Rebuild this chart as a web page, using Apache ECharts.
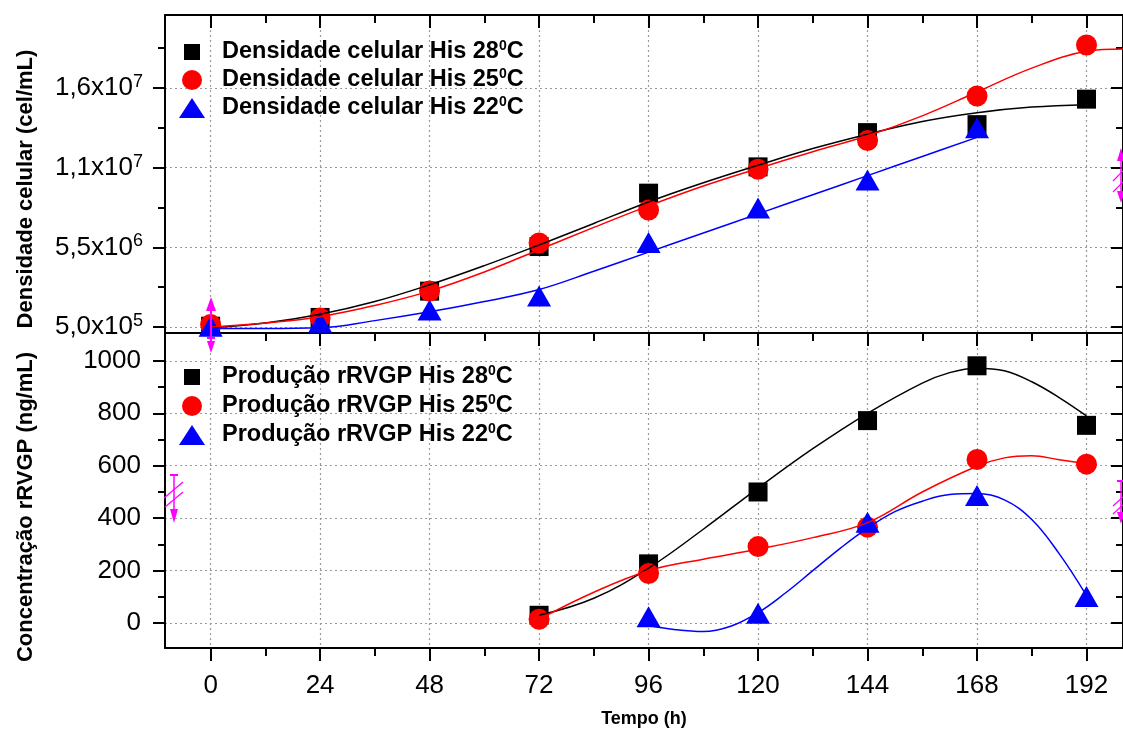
<!DOCTYPE html>
<html><head><meta charset="utf-8">
<script src="https://cdn.jsdelivr.net/npm/echarts@6/dist/echarts.min.js"></script>
<style>html,body{margin:0;padding:0;background:#fff}#c{width:1123px;height:729px}</style>
</head><body><div id="c"></div>
<script>
// ---------- data ----------
const times = [0, 24, 48, 72, 96, 120, 144, 168, 192];
const dens28 = [5.5e5, 1.1e6, 2.75e6, 5.55e6, 8.9e6, 10.55e6, 12.7e6, 13.2e6, 14.8e6];
const dens25 = [6.5e5, 1.06e6, 2.76e6, 5.77e6, 7.84e6, 10.4e6, 12.2e6, 15.0e6, 18.2e6];
const dens22 = [5.5e5, 8.0e5, 1.57e6, 2.45e6, 5.8e6, 7.97e6, 9.73e6, 13.0e6, null];

const fitTopX = [0, 12, 24, 36, 48, 60, 72, 84, 96, 108, 120, 132, 144, 156, 168, 180, 192];
const fitTop28 = [4.5e5, 7.5e5, 1.3e6, 2.1e6, 3.15e6, 4.35e6, 5.65e6, 7.0e6, 8.35e6, 9.55e6, 10.65e6, 11.7e6, 12.6e6, 13.4e6, 13.95e6, 14.3e6, 14.45e6];
const fitTop25X = [0, 12, 24, 36, 48, 60, 72, 84, 96, 108, 120, 132, 144, 156, 168, 180, 192, 200];
const fitTop25 = [5e5, 7.5e5, 1.15e6, 1.85e6, 2.75e6, 3.95e6, 5.35e6, 6.75e6, 8.1e6, 9.35e6, 10.45e6, 11.5e6, 12.5e6, 13.75e6, 15.25e6, 16.75e6, 17.8e6, 17.95e6];
const fitTop22X = [0, 12, 24, 36, 48, 60, 72, 84, 96, 108, 120, 132, 144, 156, 168];
const fitTop22 = [4e5, 4e5, 4.5e5, 9e5, 1.45e6, 2.1e6, 2.85e6, 4.0e6, 5.2e6, 6.4e6, 7.6e6, 8.8e6, 10.0e6, 11.2e6, 12.4e6];

const prodTimes = [72, 96, 120, 144, 168, 192];
const prod28 = [30, 226, 500, 772, 981, 754];
const prod25 = [15, 189, 292, 366, 624, 606];
const prod22 = [null, 24, 38, 385, 487, 102];

const fitBot28X = [72, 84, 96, 108, 120, 132, 144, 156, 162, 168, 174, 180, 186, 192];
const fitBot28 = [30, 95, 210, 358, 515, 665, 800, 915, 955, 972, 962, 920, 860, 790];
const fitBot25X = [72, 84, 96, 108, 120, 132, 144, 156, 168, 174, 180, 186, 192];
const fitBot25 = [15, 118, 200, 244, 282, 326, 383, 500, 598, 630, 638, 623, 608];
const fitBot22X = [96, 102, 108, 114, 120, 126, 132, 138, 144, 150, 156, 162, 168, 174, 180, 186, 192];
const fitBot22 = [-9, -25, -32, -12, 40, 115, 200, 285, 362, 425, 465, 490, 494, 470, 395, 265, 105];

const topNames = ['Densidade celular His 28ºC', 'Densidade celular His 25ºC', 'Densidade celular His 22ºC'];
const botNames = ['Produção rRVGP His 28ºC', 'Produção rRVGP His 25ºC', 'Produção rRVGP His 22ºC'];

// ---------- axes / tick labels ----------
const X_MIN = -10, X_MAX = 200;
const xMajorTicks = [0, 24, 48, 72, 96, 120, 144, 168, 192];
const xMinorTicks = [12, 36, 60, 84, 108, 132, 156, 180];
const topYMin = 123400, topYMax = 20081500;
const topYMajor = [5e5, 5.5e6, 1.05e7, 1.55e7];
const topYMinor = [3e6, 8e6, 1.3e7, 1.8e7];
const topYMantissa = ['5,0', '5,5', '1,1', '1,6'];
const topYExponent = ['5', '6', '7', '7'];
const botYMin = -94.7, botYMax = 1106;
const botYMajor = [0, 200, 400, 600, 800, 1000];
const botYMinor = [100, 300, 500, 700, 900];

const FONT = '"Liberation Sans", Arial, sans-serif';
const colors = ['#000000', '#ff0000', '#0000ff'];
const symbols = ['rect', 'circle', 'triangle'];
const symSizes = [[19, 19], 21, [24, 21]];
const legendIcons = [
  'path://M0,0M26,20M5,2h16v16h-16z',
  'path://M0,0M26,20M13,0A10,10,0,1,1,13,20A10,10,0,1,1,13,0z',
  'path://M0,0M26,20M13,0L26,20L0,20z'
];

const xAxes = [], yAxes = [];
function tickAxis(kind, grid, pos, min, max, ticks, len, inside, label, split, line) {
  const o = {
    type: 'value', gridIndex: grid, position: pos, min: min, max: max,
    axisLine: {show: line, onZero: false, lineStyle: {color: '#000', width: 2}},
    axisTick: {show: true, inside: inside, length: len, customValues: ticks, lineStyle: {color: '#000', width: 2}},
    axisLabel: label ? Object.assign({customValues: ticks}, label) : {show: false},
    splitLine: split ? {show: true, lineStyle: {color: '#9a9a9a', width: 1.2, type: [2, 3]}} : {show: false},
    minorTick: {show: false}, minorSplitLine: {show: false}, axisPointer: {show: false}
  };
  if (kind === 'x') { xAxes.push(o); return xAxes.length - 1; }
  yAxes.push(o); return yAxes.length - 1;
}

const xLabel = {show: true, margin: 25, color: '#000', fontFamily: FONT, fontSize: 26,
  formatter: function (v) { return String(v); }};
const topYLabel = {
  show: true, margin: 22, color: '#000',
  formatter: function (v) {
    const i = topYMajor.indexOf(v);
    if (i < 0) return '';
    return '{m|' + topYMantissa[i] + 'x10}{e|' + topYExponent[i] + '}';
  },
  rich: {
    m: {fontFamily: FONT, fontSize: 26, lineHeight: 30, color: '#000'},
    e: {fontFamily: FONT, fontSize: 18, lineHeight: 17, verticalAlign: 'top', color: '#000'}
  }
};
const botYLabel = {show: true, margin: 24, color: '#000', fontFamily: FONT, fontSize: 26,
  formatter: function (v) { return String(v); }};

// top panel (grid 0)
const xT = tickAxis('x', 0, 'bottom', X_MIN, X_MAX, xMajorTicks, 13, false, null, true, true);
tickAxis('x', 0, 'bottom', X_MIN, X_MAX, xMinorTicks, 8, false, null, false, false);
tickAxis('x', 0, 'top', X_MIN, X_MAX, xMajorTicks, 13, true, null, false, true);
tickAxis('x', 0, 'top', X_MIN, X_MAX, xMinorTicks, 8, true, null, false, false);
const yT = tickAxis('y', 0, 'left', topYMin, topYMax, topYMajor, 12, false, topYLabel, true, true);
tickAxis('y', 0, 'left', topYMin, topYMax, topYMinor, 7, false, null, false, false);
tickAxis('y', 0, 'right', topYMin, topYMax, topYMajor, 12, true, null, false, true);
tickAxis('y', 0, 'right', topYMin, topYMax, topYMinor, 7, true, null, false, false);
// bottom panel (grid 1)
const xB = tickAxis('x', 1, 'bottom', X_MIN, X_MAX, xMajorTicks, 13, false, xLabel, true, true);
tickAxis('x', 1, 'bottom', X_MIN, X_MAX, xMinorTicks, 8, false, null, false, false);
const yB = tickAxis('y', 1, 'left', botYMin, botYMax, botYMajor, 12, false, botYLabel, true, true);
tickAxis('y', 1, 'left', botYMin, botYMax, botYMinor, 7, false, null, false, false);
tickAxis('y', 1, 'right', botYMin, botYMax, botYMajor, 12, true, null, false, true);
tickAxis('y', 1, 'right', botYMin, botYMax, botYMinor, 7, true, null, false, false);

xAxes[xB].name = 'Tempo (h)';
xAxes[xB].nameLocation = 'middle';
xAxes[xB].nameGap = 62;
xAxes[xB].nameTextStyle = {fontFamily: FONT, fontSize: 18, fontWeight: 'bold', color: '#000', verticalAlign: 'top'};

function pairs(xs, ys) {
  const out = [];
  for (let i = 0; i < xs.length; i++) if (ys[i] !== null) out.push([xs[i], ys[i]]);
  return out;
}

const series = [];
const topData = [dens28, dens25, dens22];
const botData = [prod28, prod25, prod22];
for (let k = 0; k < 3; k++) {
  series.push({
    name: topNames[k], type: 'scatter', xAxisIndex: xT, yAxisIndex: yT,
    data: pairs(times, topData[k]), symbol: symbols[k], symbolSize: symSizes[k],
    itemStyle: {color: colors[k], opacity: 1}, z: 3, silent: true
  });
  series.push({
    name: botNames[k], type: 'scatter', xAxisIndex: xB, yAxisIndex: yB,
    data: pairs(prodTimes, botData[k]), symbol: symbols[k], symbolSize: symSizes[k],
    itemStyle: {color: colors[k], opacity: 1}, z: 3, silent: true
  });
}
const fitsTop = [[fitTopX, fitTop28], [fitTop25X, fitTop25], [fitTop22X, fitTop22]];
const fitsBot = [[fitBot28X, fitBot28], [fitBot25X, fitBot25], [fitBot22X, fitBot22]];
for (let k = 0; k < 3; k++) {
  series.push({
    name: 'fitTop' + k, type: 'line', xAxisIndex: xT, yAxisIndex: yT, smooth: 0.4,
    data: pairs(fitsTop[k][0], fitsTop[k][1]), showSymbol: false, symbol: 'none',
    lineStyle: {color: colors[k], width: 1.5}, z: 4, silent: true, clip: true
  });
  series.push({
    name: 'fitBot' + k, type: 'line', xAxisIndex: xB, yAxisIndex: yB, smooth: 0.4,
    data: pairs(fitsBot[k][0], fitsBot[k][1]), showSymbol: false, symbol: 'none',
    lineStyle: {color: colors[k], width: 1.5}, z: 4, silent: true, clip: true
  });
}

function legendCfg(names, top, gap) {
  return {
    orient: 'vertical', left: 174, top: top, itemWidth: 26, itemHeight: 20, itemGap: gap,
    selectedMode: false,
    data: names.map(function (n, i) { return {name: n, icon: legendIcons[i], itemStyle: {color: colors[i]}}; }),
    formatter: function (n) { return '{t|' + n.replace('ºC', '') + '}{s|0}{t|C}'; },
    textStyle: {
      padding: [0, 0, 0, 12], color: '#000',
      rich: {
        t: {fontFamily: FONT, fontSize: 23.5, fontWeight: 'bold', lineHeight: 26, color: '#000'},
        s: {fontFamily: FONT, fontSize: 14, fontWeight: 'bold', lineHeight: 14, verticalAlign: 'top', color: '#000'}
      }
    }
  };
}

const magenta = '#ff00ff';
function seg(x1, y1, x2, y2, w) {
  return {type: 'line', shape: {x1: x1, y1: y1, x2: x2, y2: y2}, style: {stroke: magenta, lineWidth: w || 1.5}, z: 100};
}
function tri(pts) {
  return {type: 'polygon', shape: {points: pts}, style: {fill: magenta}, z: 100};
}

const option = {
  animation: false,
  backgroundColor: '#fff',
  grid: [
    {left: 165, top: 15, right: -8, height: 318, containLabel: false},
    {left: 165, top: 333, right: -8, height: 317, containLabel: false}
  ],
  xAxis: xAxes,
  yAxis: yAxes,
  legend: [legendCfg(topNames, 34, 3), legendCfg(botNames, 359, 4)],
  series: series,
  graphic: [
    {type: 'text', x: 26, y: 189, rotation: Math.PI / 2,
      style: {text: 'Densidade celular (cel/mL)', font: 'bold 22px ' + FONT, fill: '#000', align: 'center', verticalAlign: 'middle'}},
    {type: 'text', x: 26, y: 507, rotation: Math.PI / 2,
      style: {text: 'Concentração rRVGP (ng/mL)', font: 'bold 22px ' + FONT, fill: '#000', align: 'center', verticalAlign: 'middle'}},
    // Origin layer markers (magenta)
    seg(211, 302, 211, 350, 2), tri([[206, 311], [211, 297], [216, 311]]), seg(207, 338, 215, 338, 2), tri([[207, 341], [211, 353], [215, 341]]),
    seg(174, 475, 174, 518, 1.5), seg(170, 475, 178, 475, 2), seg(164, 498, 183, 482, 1.2), seg(165, 507, 183, 492, 1.2), tri([[170, 509], [174, 523], [178, 509]]),
    seg(1121, 150, 1121, 200, 1.5), tri([[1117, 161], [1121, 148], [1125, 161]]), seg(1113, 181, 1123, 171, 1.2), seg(1113, 192, 1123, 182, 1.2), tri([[1117, 191], [1121, 203], [1125, 191]]),
    seg(1121, 480, 1121, 520, 1.5), seg(1117, 481, 1125, 481, 2), seg(1113, 506, 1123, 497, 1.2), seg(1113, 514, 1123, 505, 1.2), tri([[1117, 512], [1121, 524], [1125, 512]])
  ]
};

const chart = echarts.init(document.getElementById('c'), null, {renderer: 'canvas'});
chart.setOption(option);
</script>
</body></html>
